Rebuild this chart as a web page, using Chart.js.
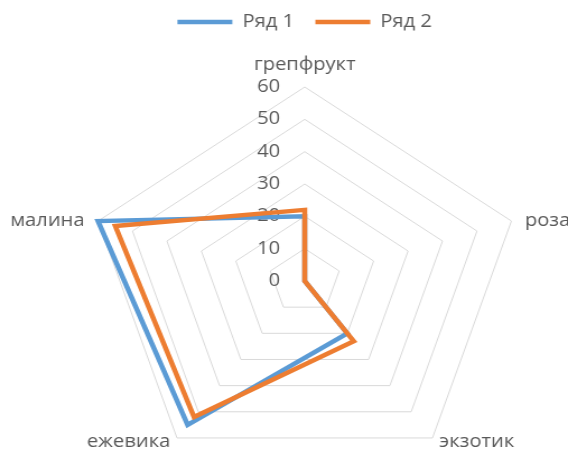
<!DOCTYPE html>
<html lang="ru">
<head>
<meta charset="utf-8">
<title>Ряд 1 / Ряд 2</title>
<script src="https://cdn.jsdelivr.net/npm/chart.js@4/dist/chart.umd.min.js"></script>
<style>
  html, body { margin: 0; padding: 0; background: #ffffff; overflow: hidden; width: 568px; height: 450px; }
  /* the drawing is laid out narrower and widened horizontally, like a stretched office chart;
     the canvas runs a little past the bottom edge so the plot can sit low */
  #wrap { position: absolute; left: 0; top: 0; width: 507px; height: 530px;
          transform: scaleX(1.1203); transform-origin: 0 0; }
</style>
</head>
<body>
<div id="wrap"><canvas id="chart"></canvas></div>
<script>
const categories = ['грепфрукт', 'роза', 'экзотик', 'ежевика', 'малина'];
const series1 = [20, 0, 20, 55, 60];
const series2 = [22, 0, 23, 52, 55];
const tickValues = [0, 10, 20, 30, 40, 50, 60];
const tickLabels = ['0', '10', '20', '30', '40', '50', '60'];

const TEXT = '#595959';
const FONT = '"Open Sans", "Liberation Sans", sans-serif';

// value labels sit to the left of the top axis, right-aligned
const axisTickLabels = {
  id: 'axisTickLabels',
  beforeDatasetsDraw(chart) {
    const scale = chart.scales.r;
    const ctx = chart.ctx;
    ctx.save();
    ctx.font = '18px ' + FONT;
    ctx.fillStyle = TEXT;
    ctx.textAlign = 'right';
    ctx.textBaseline = 'middle';
    tickValues.forEach((v, i) => {
      const p = scale.getPointPositionForValue(0, v);
      ctx.fillText(tickLabels[i], p.x - 22, p.y);
    });
    ctx.restore();
  }
};

// category names just outside the outer ring, aligned by direction
const categoryLabels = {
  id: 'categoryLabels',
  afterDraw(chart) {
    const scale = chart.scales.r;
    const ctx = chart.ctx;
    ctx.save();
    ctx.font = '18px ' + FONT;
    ctx.fillStyle = TEXT;
    ctx.textBaseline = 'middle';
    categories.forEach((name, i) => {
      const p = scale.getPointPosition(i, scale.drawingArea);
      const deg = Math.round(scale.getIndexAngle(i) * 180 / Math.PI) % 360;
      const bottom = deg > 90 && deg < 270;
      const gap = bottom ? 6 : 12;
      let x = p.x, y = p.y;
      if (deg === 0) { ctx.textAlign = 'center'; y -= 22; }
      else if (deg < 180) { ctx.textAlign = 'left'; x += gap; }
      else { ctx.textAlign = 'right'; x -= gap; }
      if (bottom) y += 4;
      ctx.fillText(name, x, y);
    });
    ctx.restore();
  }
};

new Chart(document.getElementById('chart'), {
  type: 'radar',
  data: {
    labels: categories,
    datasets: [
      { label: 'Ряд 1', data: series1, borderColor: '#5B9BD5', backgroundColor: '#5B9BD5',
        borderWidth: 4.5, fill: false, pointRadius: 0, pointHoverRadius: 0, order: 1 },
      { label: 'Ряд 2', data: series2, borderColor: '#ED7D31', backgroundColor: '#ED7D31',
        borderWidth: 4.5, fill: false, pointRadius: 0, pointHoverRadius: 0, order: 0 }
    ]
  },
  options: {
    responsive: true,
    maintainAspectRatio: false,
    animation: false,
    layout: { padding: { left: 78, right: 41, top: -6, bottom: 9 } },
    plugins: {
      tooltip: { enabled: false },
      legend: {
        position: 'top',
        labels: {
          usePointStyle: true,
          pointStyle: 'line',
          pointStyleWidth: 49,
          boxHeight: 18,
          padding: 19,
          color: TEXT,
          font: { family: FONT, size: 18 },
          sort: (a, b) => a.datasetIndex - b.datasetIndex
        }
      }
    },
    scales: {
      r: {
        min: 0,
        max: 60,
        ticks: { stepSize: 10, display: false },
        grid: { color: '#d9d9d9', lineWidth: 1 },
        angleLines: { display: false },
        pointLabels: { display: false }
      }
    }
  },
  plugins: [axisTickLabels, categoryLabels]
});
</script>
</body>
</html>
